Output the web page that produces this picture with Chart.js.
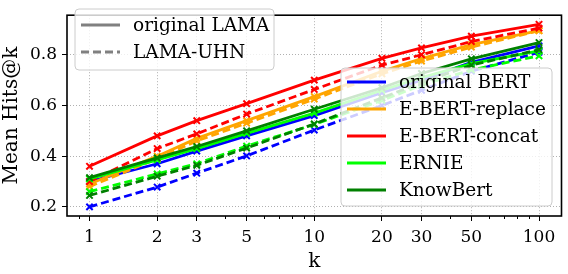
<!DOCTYPE html>
<html>
<head>
<meta charset="utf-8">
<script src="https://cdn.jsdelivr.net/npm/chart.js@4.4.1/dist/chart.umd.min.js"></script>
<style>
  html, body { margin: 0; padding: 0; background: #fff; }
  #wrap { width: 568px; height: 274px; }
</style>
</head>
<body>
<div id="wrap"><canvas id="chart" width="568" height="274"></canvas></div>
<script>
const K_VALUES = [1, 2, 3, 5, 10, 20, 30, 50, 100];
const X_MINOR = [0.9, 4, 6, 7, 8, 9, 40, 60, 70, 80, 90];
const Y_TICKS = [0.2, 0.4, 0.6, 0.8];

const MODELS = ["original BERT", "E-BERT-replace", "E-BERT-concat", "ERNIE", "KnowBert"];
const COLORS = ["#0000ff", "#ffa500", "#ff0000", "#00ff00", "#008000"];
const SPLITS = ["original LAMA", "LAMA-UHN"];

// hits@k on original LAMA (solid)
const bertLama    = [0.30, 0.37, 0.42, 0.48, 0.56, 0.65, 0.70, 0.77, 0.835];
const replaceLama = [0.29, 0.40, 0.47, 0.54, 0.635, 0.735, 0.785, 0.84, 0.895];
const concatLama  = [0.36, 0.48, 0.54, 0.607, 0.70, 0.786, 0.827, 0.873, 0.92];
const ernieLama   = [0.31, 0.385, 0.43, 0.49, 0.57, 0.66, 0.71, 0.765, 0.815];
const knowLama    = [0.315, 0.393, 0.438, 0.50, 0.585, 0.67, 0.726, 0.784, 0.848];

// hits@k on LAMA-UHN (dashed)
const bertUhn     = [0.20, 0.278, 0.333, 0.401, 0.503, 0.60, 0.66, 0.735, 0.81];
const replaceUhn  = [0.28, 0.39, 0.46, 0.53, 0.625, 0.725, 0.775, 0.83, 0.895];
const concatUhn   = [0.30, 0.43, 0.488, 0.566, 0.663, 0.759, 0.80, 0.852, 0.905];
const ernieUhn    = [0.26, 0.33, 0.37, 0.44, 0.525, 0.62, 0.68, 0.74, 0.796];
const knowUhn     = [0.245, 0.321, 0.364, 0.432, 0.527, 0.63, 0.69, 0.759, 0.82];

const LAMA_SERIES = [bertLama, replaceLama, concatLama, ernieLama, knowLama];
const UHN_SERIES = [bertUhn, replaceUhn, concatUhn, ernieUhn, knowUhn];

const FONT = "DejaVu Serif";
const DASH = [8, 4];

const datasets = [];
MODELS.forEach((m, i) => {
  [LAMA_SERIES[i], UHN_SERIES[i]].forEach((vals, j) => {
    datasets.push({
      label: m + " / " + SPLITS[j],
      data: K_VALUES.map((k, n) => ({ x: k, y: vals[n] })),
      borderColor: COLORS[i],
      backgroundColor: COLORS[i],
      borderWidth: 2.8,
      borderDash: j === 1 ? DASH : [],
      pointStyle: "crossRot",
      pointRadius: 4.5,
      pointBorderWidth: 2,
      tension: 0,
      order: 20 - datasets.length,
    });
  });
});

function roundRect(ctx, x, y, w, h, r) {
  ctx.beginPath();
  ctx.moveTo(x + r, y);
  ctx.arcTo(x + w, y, x + w, y + h, r);
  ctx.arcTo(x + w, y + h, x, y + h, r);
  ctx.arcTo(x, y + h, x, y, r);
  ctx.arcTo(x, y, x + w, y, r);
  ctx.closePath();
}

function drawLegend(ctx, box, rows) {
  ctx.save();
  roundRect(ctx, box.x, box.y, box.w, box.h, 4);
  ctx.fillStyle = "rgba(255,255,255,0.8)";
  ctx.fill();
  ctx.strokeStyle = "#cccccc";
  ctx.lineWidth = 1;
  ctx.stroke();
  ctx.font = "18.5px '" + FONT + "'";
  ctx.textBaseline = "middle";
  ctx.fillStyle = "#000";
  rows.forEach((r, i) => {
    const y = box.y + box.first + i * box.step;
    ctx.beginPath();
    ctx.setLineDash(r.dash);
    ctx.strokeStyle = r.color;
    ctx.lineWidth = 3;
    ctx.moveTo(box.x + 6, y);
    ctx.lineTo(box.x + 45, y);
    ctx.stroke();
    ctx.setLineDash([]);
    ctx.fillText(r.text, box.x + 58, y + 1);
  });
  ctx.restore();
}

const decorations = {
  id: "decorations",
  afterDraw(chart) {
    const { ctx, chartArea: a, scales } = chart;
    ctx.save();
    // minor ticks on log axis
    ctx.strokeStyle = "#000";
    ctx.lineWidth = 1;
    X_MINOR.forEach(v => {
      const px = Math.round(scales.x.getPixelForValue(v)) + 0.5;
      ctx.beginPath();
      ctx.moveTo(px, a.bottom);
      ctx.lineTo(px, a.bottom + 3);
      ctx.stroke();
    });
    // frame
    ctx.lineWidth = 1.6;
    ctx.strokeRect(a.left, a.top, a.right - a.left, a.bottom - a.top);
    ctx.restore();

    drawLegend(ctx, { x: 75, y: 9, w: 199, h: 61, first: 16, step: 27 },
      SPLITS.map((s, j) => ({ text: s, color: "#808080", dash: j === 1 ? DASH : [] })));
    drawLegend(ctx, { x: 341, y: 68, w: 211, h: 138, first: 14, step: 27 },
      MODELS.map((m, i) => ({ text: m, color: COLORS[i], dash: [] })));
  }
};

new Chart(document.getElementById("chart"), {
  type: "line",
  data: { datasets },
  options: {
    responsive: false,
    animation: false,
    devicePixelRatio: 1,
    layout: { padding: { top: 2, right: 5, left: 0, bottom: 0 } },
    plugins: { legend: { display: false }, tooltip: { enabled: false } },
    scales: {
      x: {
        type: "logarithmic",
        min: 0.794,
        max: 125.9,
        afterBuildTicks: s => { s.ticks = K_VALUES.map(v => ({ value: v })); },
        afterFit: s => { s.height = 58; },
        ticks: {
          callback: v => String(v),
          autoSkip: false,
          maxRotation: 0,
          color: "#000",
          padding: 6,
          font: { family: FONT, size: 17 },
        },
        grid: { color: "#b0b0b0", lineWidth: 1, tickColor: "#000", tickLength: 5, tickWidth: 1 },
        border: { display: false, dash: [1, 2] },
        title: { display: true, text: "k", color: "#000", font: { family: FONT, size: 20 }, padding: { top: 0, bottom: 0 } },
      },
      y: {
        type: "linear",
        min: 0.164,
        max: 0.956,
        afterBuildTicks: s => { s.ticks = Y_TICKS.map(v => ({ value: v })); },
        afterFit: s => { s.width = 67; },
        ticks: {
          callback: v => v.toFixed(1),
          color: "#000",
          padding: 5,
          font: { family: FONT, size: 17 },
        },
        grid: { color: "#b0b0b0", lineWidth: 1, tickColor: "#000", tickLength: 5, tickWidth: 1 },
        border: { display: false, dash: [1, 2] },
        title: { display: true, text: "Mean Hits@k", color: "#000", font: { family: FONT, size: 20 }, padding: { top: 0, bottom: 0 } },
      },
    },
  },
  plugins: [decorations],
});
</script>
</body>
</html>
